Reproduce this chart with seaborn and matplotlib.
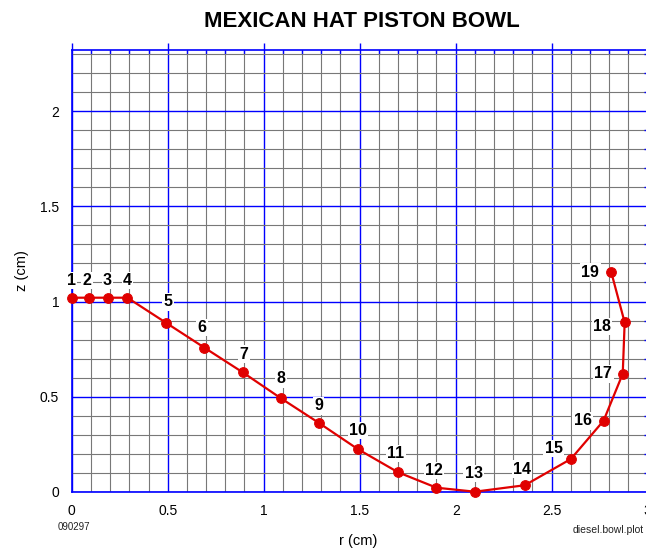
import matplotlib
matplotlib.use("Agg")
import matplotlib.pyplot as plt
from matplotlib.ticker import MultipleLocator, FormatStrFormatter
import seaborn as sns
import pandas as pd

# Bowl profile points (r, z in cm)
point_ids = [str(i) for i in range(1, 20)]
r_cm = [0.0, 0.09, 0.19, 0.29, 0.49, 0.69, 0.89, 1.09, 1.29, 1.49,
        1.70, 1.90, 2.10, 2.36, 2.60, 2.77, 2.87, 2.88, 2.81]
z_cm = [1.02, 1.02, 1.02, 1.02, 0.889, 0.758, 0.628, 0.491, 0.360, 0.224,
        0.102, 0.021, 0.0, 0.034, 0.172, 0.373, 0.620, 0.890, 1.155]

# Label offsets in points relative to each node
label_dx = [0, -1.5, -0.5, 0, 1.5, -1.5, 1, 0, -0.5, 0,
            -1.5, -2, -1, -2, -12.5, -15, -14, -16.5, -15]
label_dy = [12.5, 12.5, 12.5, 12.5, 15, 14.5, 13, 14, 12.5, 13.5,
            13.5, 12.5, 13, 11.5, 7.5, 0, 0, -3, 0]

sns.set_style("white")
plt.rcParams["font.family"] = ["Liberation Sans", "DejaVu Sans"]
plt.rcParams["text.color"] = "black"
plt.rcParams["axes.labelcolor"] = "black"

W, H = 646, 553
fig = plt.figure(figsize=(W / 100, H / 100), dpi=100)
ax = fig.add_axes([71.7 / W, (H - 491.7) / H, (647.7 - 71.7) / W, (491.7 - 49.5) / H])

df = pd.DataFrame({"r": r_cm, "z": z_cm, "pt": point_ids})
sns.lineplot(data=df, x="r", y="z", sort=False, estimator=None, ax=ax,
             color="#e00000", lw=1.6, marker="o", markersize=7,
             markeredgecolor="#e00000", clip_on=False, zorder=5)

for pid, r, z, dx, dy in zip(point_ids, r_cm, z_cm, label_dx, label_dy):
    ax.annotate(pid, (r, z), xytext=(dx, dy), textcoords="offset points",
                ha="center", va="center", fontsize=11.5, fontweight="bold",
                color="black",
                bbox=dict(boxstyle="square,pad=0.08", fc="white", ec="none"),
                zorder=6)

ax.set_xlim(0, 3)
ax.set_ylim(0, 2.325)
ax.xaxis.set_major_locator(MultipleLocator(0.5))
ax.xaxis.set_minor_locator(MultipleLocator(0.1))
ax.yaxis.set_major_locator(MultipleLocator(0.5))
ax.yaxis.set_minor_locator(MultipleLocator(0.1))
ax.xaxis.set_major_formatter(FormatStrFormatter("%g"))
ax.yaxis.set_major_formatter(FormatStrFormatter("%g"))

ax.set_axisbelow(True)
ax.grid(which="minor", color="#787878", lw=0.8)
ax.grid(which="major", color="#0000ff", lw=1.0)

ax.tick_params(which="major", direction="out", length=5, width=1.0,
               color="#0000ff", labelcolor="black", top=True, right=True,
               labelsize=10, pad=4)
ax.tick_params(which="minor", direction="in", length=3, width=1.0,
               color="#0000ff", top=True, right=True)
for s in ax.spines.values():
    s.set_color("#0000ff")
    s.set_linewidth(1.2)

ax.set_xlabel("")
ax.set_ylabel("")

fig.text(362 / W, 1 - 27 / H, "MEXICAN HAT PISTON BOWL", ha="center",
         va="baseline", fontsize=16, fontweight="bold", color="black")
fig.text(358 / W, 1 - 540.7 / H, "r (cm)", ha="center", va="center",
         fontsize=10.5, color="black")
fig.text(21.7 / W, 1 - 271 / H, "z (cm)", ha="center", va="center",
         rotation=90, fontsize=10.5, color="black")
fig.text(74 / W, 1 - 527.3 / H, "090297", ha="center", va="center",
         fontsize=7, color="#222222")
fig.text(644 / W, 1 - 530 / H, "diesel.bowl.plot", ha="right", va="center",
         fontsize=7.5, color="#222222")

fig.savefig("out.png", dpi=100)
